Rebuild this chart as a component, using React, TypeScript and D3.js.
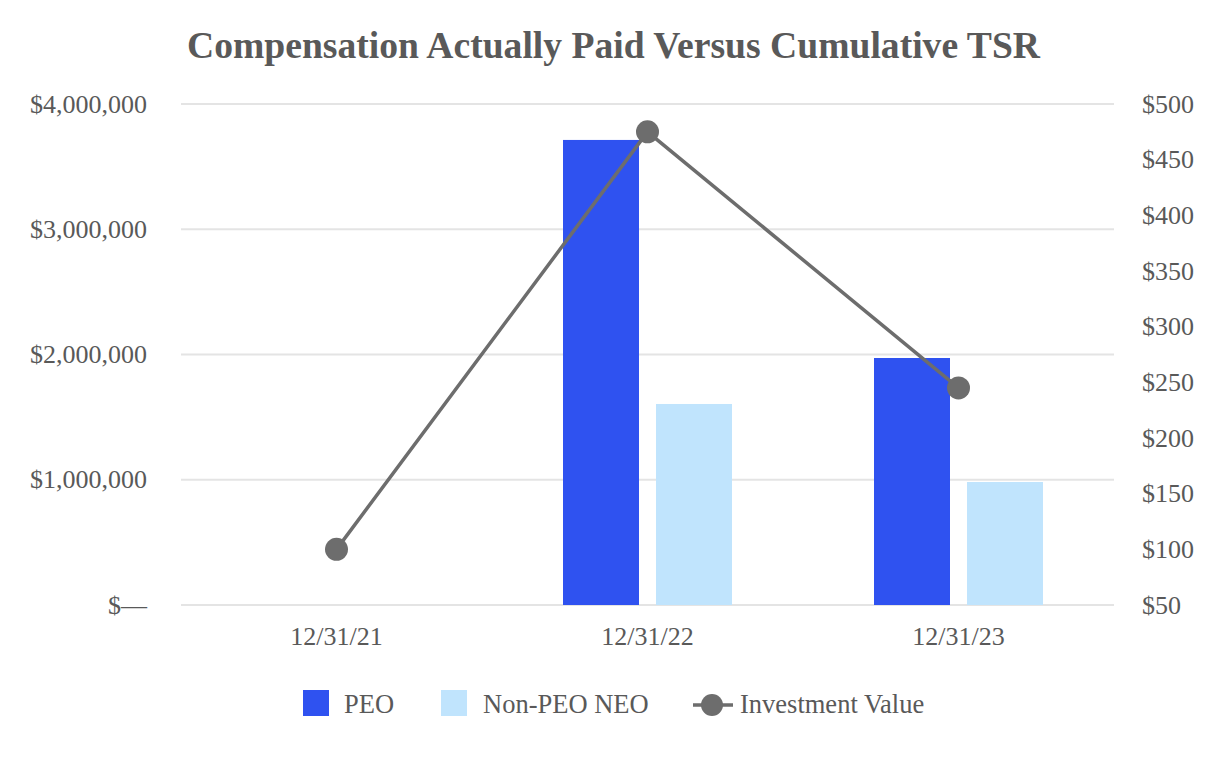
import React from "react";
import * as d3 from "d3";

const categories = ["12/31/21", "12/31/22", "12/31/23"];
const peoValues: (number | null)[] = [null, 3713000, 1972000];
const nonPeoValues: (number | null)[] = [null, 1605000, 982000];
const investmentValues = [100, 475, 245];
const leftTicks = [0, 1000000, 2000000, 3000000, 4000000];
const rightTicks = [50, 100, 150, 200, 250, 300, 350, 400, 450, 500];
const seriesNames = ["PEO", "Non-PEO NEO", "Investment Value"];

const W = 1226;
const H = 760;
const X0 = 181;
const X1 = 1114;
const Y0 = 605;
const Y1 = 104;
const PEO_COLOR = "#2f52f0";
const NONPEO_COLOR = "#c0e4fd";
const LINE_COLOR = "#6d6d6d";
const TEXT_COLOR = "#595959";
const GRID_COLOR = "#e4e4e4";
const FONT = "'Liberation Serif', 'Times New Roman', serif";

export default function App() {
  const x = d3.scaleBand<string>().domain(categories).range([X0, X1]).padding(0);
  const inner = d3.scaleBand<string>().domain(["peo", "non"]).range([0, 169]).paddingInner(17 / 93);
  const outerPad = (x.bandwidth() - 169) / 2;
  const yL = d3.scaleLinear().domain([0, 4000000]).range([Y0, Y1]);
  const yR = d3.scaleLinear().domain([50, 500]).range([Y0, Y1]);

  const leftFmt = (v: number) => (v === 0 ? "$\u2014" : "$" + d3.format(",")(v));
  const rightFmt = (v: number) => "$" + v;

  const linePts = categories.map((c, i) => [x(c)! + x.bandwidth() / 2, yR(investmentValues[i])] as [number, number]);
  const lineGen = d3.line();

  return (
    <svg width={W} height={H} style={{ position: "absolute", left: 0, top: 0, background: "#fff" }} fontFamily={FONT}>
      <text x={187} y={58} fontSize={37} fontWeight="bold" fill={TEXT_COLOR} textLength={853} lengthAdjust="spacingAndGlyphs">
        Compensation Actually Paid Versus Cumulative TSR
      </text>
      {leftTicks.map((t) => (
        <line key={"g" + t} x1={X0} x2={X1} y1={yL(t)} y2={yL(t)} stroke={GRID_COLOR} strokeWidth={2} />
      ))}
      {leftTicks.map((t) => (
        <text key={"l" + t} x={147} y={yL(t)} dy="0.33em" textAnchor="end" fontSize={26} fill={TEXT_COLOR}>
          {leftFmt(t)}
        </text>
      ))}
      {rightTicks.map((t) => (
        <text key={"r" + t} x={1142} y={yR(t)} dy="0.33em" textAnchor="start" fontSize={26} fill={TEXT_COLOR}>
          {rightFmt(t)}
        </text>
      ))}
      {categories.map((c, i) => {
        const bx = x(c)! + outerPad;
        const p = peoValues[i];
        const n = nonPeoValues[i];
        return (
          <g key={c}>
            {p != null && (
              <rect x={bx + inner("peo")!} y={yL(p)} width={inner.bandwidth()} height={Y0 - yL(p)} fill={PEO_COLOR} />
            )}
            {n != null && (
              <rect x={bx + inner("non")!} y={yL(n)} width={inner.bandwidth()} height={Y0 - yL(n)} fill={NONPEO_COLOR} />
            )}
            <text x={x(c)! + x.bandwidth() / 2} y={636} dy="0.33em" textAnchor="middle" fontSize={26} fill={TEXT_COLOR}>
              {c}
            </text>
          </g>
        );
      })}
      <path d={lineGen(linePts) || ""} fill="none" stroke={LINE_COLOR} strokeWidth={3.5} />
      {linePts.map((p, i) => (
        <circle key={i} cx={p[0]} cy={p[1]} r={11.5} fill={LINE_COLOR} />
      ))}
      {/* legend */}
      <rect x={303} y={690} width={26} height={26} fill={PEO_COLOR} />
      <text x={344} y={713} fontSize={26.5} fill={TEXT_COLOR}>{seriesNames[0]}</text>
      <rect x={441} y={690} width={26} height={26} fill={NONPEO_COLOR} />
      <text x={483} y={713} fontSize={26.5} fill={TEXT_COLOR}>{seriesNames[1]}</text>
      <line x1={693} x2={733} y1={705} y2={705} stroke={LINE_COLOR} strokeWidth={3.5} />
      <circle cx={712} cy={705} r={11} fill={LINE_COLOR} />
      <text x={740} y={713} fontSize={26.5} fill={TEXT_COLOR}>{seriesNames[2]}</text>
    </svg>
  );
}
